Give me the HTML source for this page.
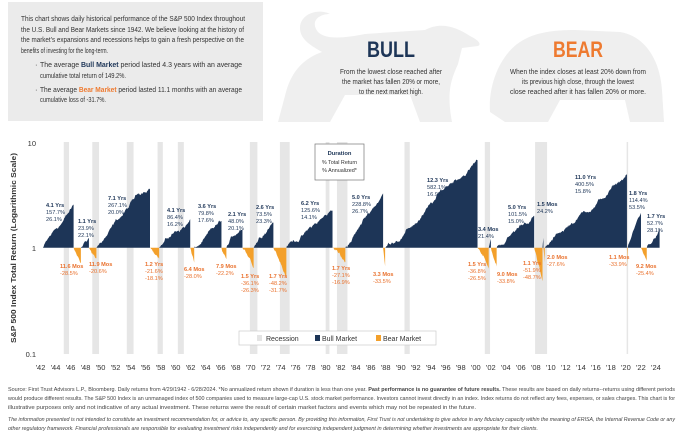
<!DOCTYPE html>
<html><head><meta charset="utf-8">
<style>
html,body{margin:0;padding:0;background:#fff;}
svg{display:block;font-family:"Liberation Sans Narrow","Liberation Sans",sans-serif;}
.bl{fill:#1d3557;font-size:5.6px;}
.bb{font-weight:bold;}
.br{fill:#e9712d;font-size:5.6px;}
.hd{fill:#333;font-size:7.6px;}
.ft{fill:#444;font-size:5.4px;}
.tk{fill:#333;font-size:7.5px;}
</style></head>
<body>
<svg id="s" width="680" height="432" viewBox="0 0 680 432" xmlns="http://www.w3.org/2000/svg">
<path d="M278,122 L286,92 C292,70 305,58 322,52 C312,46 300,40 300,28 C300,14 318,8 330,14 C318,14 310,22 318,32 C326,40 345,38 365,34 L425,30 C440,22 455,26 470,36 C478,40 482,44 478,46 L462,48 L458,64 C452,78 446,90 452,122 L420,122 L410,95 L345,95 L330,122 Z" fill="#efefef"/>
<path d="M490,112 C488,85 500,55 520,42 C535,32 555,30 575,30 L620,32 C645,36 660,60 662,90 L664,122 L630,122 L625,100 L560,100 L548,122 L505,122 Z" fill="#efefef"/>
<rect x="8" y="2" width="255" height="119" fill="#ebebeb"/>
<text class="hd" x="21" y="21" textLength="224" lengthAdjust="spacingAndGlyphs">This chart shows daily historical performance of the S&amp;P 500 Index throughout</text>
<text class="hd" x="21" y="32" textLength="223" lengthAdjust="spacingAndGlyphs">the U.S. Bull and Bear Markets since 1942. We believe looking at the history of</text>
<text class="hd" x="21" y="42" textLength="223" lengthAdjust="spacingAndGlyphs">the market’s expansions and recessions helps to gain a fresh perspective on the</text>
<text class="hd" x="21" y="53" textLength="87" lengthAdjust="spacingAndGlyphs">benefits of investing for the long-term.</text>
<text class="hd" x="35" y="67">·</text>
<text class="hd" x="40" y="67" textLength="202" lengthAdjust="spacingAndGlyphs">The average <tspan font-weight="bold" fill="#1d3557">Bull Market</tspan> period lasted 4.3 years with an average</text>
<text class="hd" x="40" y="78" textLength="86" lengthAdjust="spacingAndGlyphs">cumulative total return of 149.2%.</text>
<text class="hd" x="35" y="92">·</text>
<text class="hd" x="40" y="92" textLength="202" lengthAdjust="spacingAndGlyphs">The average <tspan font-weight="bold" fill="#ee7a30">Bear Market</tspan> period lasted 11.1 months with an average</text>
<text class="hd" x="40" y="102" textLength="66" lengthAdjust="spacingAndGlyphs">cumulative loss of -31.7%.</text>
<text x="391" y="57" text-anchor="middle" fill="#1d3557" font-weight="bold" font-size="22" textLength="48" lengthAdjust="spacingAndGlyphs">BULL</text>
<text class="hd" x="391" y="74" text-anchor="middle" textLength="102" lengthAdjust="spacingAndGlyphs">From the lowest close reached after</text>
<text class="hd" x="391" y="84" text-anchor="middle" textLength="98" lengthAdjust="spacingAndGlyphs">the market has fallen 20% or more,</text>
<text class="hd" x="391" y="94" text-anchor="middle" textLength="64" lengthAdjust="spacingAndGlyphs">to the next market high.</text>
<text x="578" y="57" text-anchor="middle" fill="#ee7a30" font-weight="bold" font-size="22" textLength="50" lengthAdjust="spacingAndGlyphs">BEAR</text>
<text class="hd" x="578" y="74" text-anchor="middle" textLength="136" lengthAdjust="spacingAndGlyphs">When the index closes at least 20% down from</text>
<text class="hd" x="578" y="84" text-anchor="middle" textLength="112" lengthAdjust="spacingAndGlyphs">its previous high close, through the lowest</text>
<text class="hd" x="578" y="94" text-anchor="middle" textLength="136" lengthAdjust="spacingAndGlyphs">close reached after it has fallen 20% or more.</text>
<g id="rec"></g>
<g id="ser"></g>
<text class="tk" x="36" y="146" text-anchor="end">10</text>
<text class="tk" x="36" y="251" text-anchor="end">1</text>
<text class="tk" x="36" y="357" text-anchor="end">0.1</text>
<text transform="translate(16,248) rotate(-90)" text-anchor="middle" fill="#333" font-weight="bold" font-size="7" textLength="190" lengthAdjust="spacingAndGlyphs">S&amp;P 500 Index Total Return (Logarithmic Scale)</text>
<g id="ticks"></g>
<rect x="315" y="144" width="49" height="36" fill="#fff" stroke="#777" stroke-width="0.7"/>
<text x="339.5" y="155" text-anchor="middle" fill="#1d3557" font-weight="bold" font-size="5.8">Duration</text>
<text x="339.5" y="164" text-anchor="middle" fill="#333" font-size="5.4">% Total Return</text>
<text x="339.5" y="172" text-anchor="middle" fill="#333" font-size="5.4">% Annualized*</text>
<g class="bl">
<text x="46" y="207"><tspan class="bb">4.1 Yrs</tspan><tspan x="46" dy="7">157.7%</tspan><tspan x="46" dy="7">26.1%</tspan></text>
<text x="78" y="223"><tspan class="bb">1.1 Yrs</tspan><tspan x="78" dy="7">23.9%</tspan><tspan x="78" dy="7">22.1%</tspan></text>
<text x="108" y="200"><tspan class="bb">7.1 Yrs</tspan><tspan x="108" dy="7">267.1%</tspan><tspan x="108" dy="7">20.0%</tspan></text>
<text x="167" y="212"><tspan class="bb">4.1 Yrs</tspan><tspan x="167" dy="7">86.4%</tspan><tspan x="167" dy="7">16.2%</tspan></text>
<text x="198" y="208"><tspan class="bb">3.6 Yrs</tspan><tspan x="198" dy="7">79.8%</tspan><tspan x="198" dy="7">17.6%</tspan></text>
<text x="228" y="216"><tspan class="bb">2.1 Yrs</tspan><tspan x="228" dy="7">48.0%</tspan><tspan x="228" dy="7">20.1%</tspan></text>
<text x="256" y="209"><tspan class="bb">2.6 Yrs</tspan><tspan x="256" dy="7">73.5%</tspan><tspan x="256" dy="7">23.3%</tspan></text>
<text x="301" y="205"><tspan class="bb">6.2 Yrs</tspan><tspan x="301" dy="7">125.6%</tspan><tspan x="301" dy="7">14.1%</tspan></text>
<text x="352" y="199"><tspan class="bb">5.0 Yrs</tspan><tspan x="352" dy="7">228.8%</tspan><tspan x="352" dy="7">26.7%</tspan></text>
<text x="427" y="182"><tspan class="bb">12.3 Yrs</tspan><tspan x="427" dy="7">582.1%</tspan><tspan x="427" dy="7">16.9%</tspan></text>
<text x="478" y="231"><tspan class="bb">3.4 Mos</tspan><tspan x="478" dy="7">21.4%</tspan></text>
<text x="508" y="209"><tspan class="bb">5.0 Yrs</tspan><tspan x="508" dy="7">101.5%</tspan><tspan x="508" dy="7">15.0%</tspan></text>
<text x="537" y="206"><tspan class="bb">1.5 Mos</tspan><tspan x="537" dy="7">24.2%</tspan></text>
<text x="575" y="179"><tspan class="bb">11.0 Yrs</tspan><tspan x="575" dy="7">400.5%</tspan><tspan x="575" dy="7">15.8%</tspan></text>
<text x="629" y="195"><tspan class="bb">1.8 Yrs</tspan><tspan x="629" dy="7">114.4%</tspan><tspan x="629" dy="7">53.5%</tspan></text>
<text x="647" y="218"><tspan class="bb">1.7 Yrs</tspan><tspan x="647" dy="7">52.7%</tspan><tspan x="647" dy="7">28.1%</tspan></text>
</g>
<g class="br">
<text x="60" y="268"><tspan class="bb">11.6 Mos</tspan><tspan x="60" dy="7">-28.5%</tspan></text>
<text x="89" y="266"><tspan class="bb">11.9 Mos</tspan><tspan x="89" dy="7">-20.6%</tspan></text>
<text x="145" y="266"><tspan class="bb">1.2 Yrs</tspan><tspan x="145" dy="7">-21.6%</tspan><tspan x="145" dy="7">-18.1%</tspan></text>
<text x="184" y="271"><tspan class="bb">6.4 Mos</tspan><tspan x="184" dy="7">-28.0%</tspan></text>
<text x="216" y="268"><tspan class="bb">7.9 Mos</tspan><tspan x="216" dy="7">-22.2%</tspan></text>
<text x="241" y="278"><tspan class="bb">1.5 Yrs</tspan><tspan x="241" dy="7">-36.1%</tspan><tspan x="241" dy="7">-26.3%</tspan></text>
<text x="269" y="278"><tspan class="bb">1.7 Yrs</tspan><tspan x="269" dy="7">-48.2%</tspan><tspan x="269" dy="7">-31.7%</tspan></text>
<text x="332" y="270"><tspan class="bb">1.7 Yrs</tspan><tspan x="332" dy="7">-27.1%</tspan><tspan x="332" dy="7">-16.9%</tspan></text>
<text x="373" y="276"><tspan class="bb">3.3 Mos</tspan><tspan x="373" dy="7">-33.5%</tspan></text>
<text x="468" y="266"><tspan class="bb">1.5 Yrs</tspan><tspan x="468" dy="7">-36.8%</tspan><tspan x="468" dy="7">-26.5%</tspan></text>
<text x="497" y="276"><tspan class="bb">9.0 Mos</tspan><tspan x="497" dy="7">-33.8%</tspan></text>
<text x="523" y="265"><tspan class="bb">1.1 Yrs</tspan><tspan x="523" dy="7">-51.9%</tspan><tspan x="523" dy="7">-48.7%</tspan></text>
<text x="547" y="259"><tspan class="bb">2.0 Mos</tspan><tspan x="547" dy="7">-27.6%</tspan></text>
<text x="609" y="259"><tspan class="bb">1.1 Mos</tspan><tspan x="609" dy="7">-33.9%</tspan></text>
<text x="636" y="268"><tspan class="bb">9.2 Mos</tspan><tspan x="636" dy="7">-25.4%</tspan></text>
</g>
<rect x="239" y="331" width="197" height="14" fill="#fff" stroke="#ccc" stroke-width="0.7"/>
<rect x="257" y="335" width="5" height="6" fill="#e4e4e4"/>
<text x="266" y="341" fill="#333" font-size="7">Recession</text>
<rect x="315" y="335" width="5" height="6" fill="#1d3557"/>
<text x="322" y="341" fill="#333" font-size="7">Bull Market</text>
<rect x="376" y="335" width="5" height="6" fill="#f3a02b"/>
<text x="383" y="341" fill="#333" font-size="7">Bear Market</text>
<text class="ft" x="8" y="391" textLength="667" lengthAdjust="spacingAndGlyphs">Source: First Trust Advisors L.P., Bloomberg. Daily returns from 4/29/1942 - 6/28/2024. *No annualized return shown if duration is less than one year. <tspan font-weight="bold">Past performance is no guarantee of future results.</tspan> These results are based on daily returns--returns using different periods</text>
<text class="ft" x="8" y="400" textLength="667" lengthAdjust="spacingAndGlyphs">would produce different results. The S&amp;P 500 Index is an unmanaged index of 500 companies used to measure large-cap U.S. stock market performance. Investors cannot invest directly in an index. Index returns do not reflect any fees, expenses, or sales charges. This chart is for</text>
<text class="ft" x="8" y="409" textLength="468" lengthAdjust="spacingAndGlyphs">illustrative purposes only and not indicative of any actual investment. These returns were the result of certain market factors and events which may not be repeated in the future.</text>
<text class="ft" x="8" y="421" font-style="italic" textLength="667" lengthAdjust="spacingAndGlyphs">The information presented is not intended to constitute an investment recommendation for, or advice to, any specific person. By providing this information, First Trust is not undertaking to give advice in any fiduciary capacity within the meaning of ERISA, the Internal Revenue Code or any</text>
<text class="ft" x="8" y="430" font-style="italic" textLength="530" lengthAdjust="spacingAndGlyphs">other regulatory framework. Financial professionals are responsible for evaluating investment risks independently and for exercising independent judgment in determining whether investments are appropriate for their clients.</text>
</svg>
<script>
(function(){
var NS="http://www.w3.org/2000/svg";
function X(y){return 40.5+(y-1942)*7.505;}
function Y(l){return 247.7-105*l;}
function el(p,t,a){var e=document.createElementNS(NS,t);for(var k in a)e.setAttribute(k,a[k]);p.appendChild(e);return e;}
var rec=document.getElementById('rec'),ser=document.getElementById('ser'),tk=document.getElementById('ticks');
var R=[[1945.1,1945.8],[1948.9,1949.8],[1953.5,1954.4],[1957.6,1958.3],[1960.3,1961.1],[1969.9,1970.9],[1973.9,1975.2],[1980.0,1980.5],[1981.5,1982.9],[1990.5,1991.2],[2001.2,2001.9],[2007.9,2009.5],[2020.1,2020.3]];
R.forEach(function(r){var a=X(r[0]),w=Math.max(1.2,X(r[1])-a);el(rec,'rect',{x:a,y:142,width:w,height:212,fill:'#e6e6e6'});});
for(var yr=1942;yr<=2024;yr+=2){var t=el(tk,'text',{x:X(yr),y:370,'text-anchor':'middle','class':'tk'});t.textContent="'"+String(yr%100).padStart(2,'0');}
var s=12345;function rnd(){s=(s*1103515245+12345)%2147483648;return s/2147483648;}
function gauss(){return (rnd()+rnd()+rnd()-1.5)*1.4;}
function series(a,b,L,bull){
 var x0=X(a),x1=X(b),n=Math.max(3,Math.round((x1-x0)*1.5));
 var w=[0],sig=0.011;
 for(var i=1;i<=n;i++)w.push(w[i-1]+gauss()*sig);
 var d="M"+x0.toFixed(2)+","+Y(0).toFixed(2);
 for(var i=0;i<=n;i++){var f=i/n,v=w[i]-f*w[n]+L*f;
  if(bull){v=Math.max(0,v);}else{v=Math.min(0,v);}
  if(i==n)v=L;
  d+=" L"+(x0+(x1-x0)*f).toFixed(2)+","+Y(v).toFixed(2);}
 d+=" L"+x1.toFixed(2)+","+Y(0).toFixed(2)+"Z";
 el(ser,'path',{d:d,fill:bull?'#1d3557':'#f3a02b'});
}
var B=[[1942.32,1946.41,1.577],[1947.38,1948.45,0.239],[1949.45,1956.59,2.671],[1957.81,1961.95,0.864],[1962.48,1966.11,0.798],[1966.77,1968.91,0.48],[1970.40,1973.03,0.735],[1974.76,1980.91,1.256],[1982.62,1987.65,2.288],[1987.92,2000.23,5.821],[2001.72,2002.01,0.214],[2002.78,2007.78,1.015],[2008.89,2009.01,0.242],[2009.19,2020.14,4.005],[2020.23,2022.01,1.144],[2022.78,2024.49,0.527]];
var D=[[1946.41,1947.38,0.285],[1948.45,1949.45,0.206],[1956.59,1957.81,0.216],[1961.95,1962.48,0.28],[1966.11,1966.77,0.222],[1968.91,1970.40,0.361],[1973.03,1974.76,0.482],[1980.91,1982.62,0.271],[1987.65,1987.92,0.335],[2000.23,2001.72,0.368],[2002.01,2002.78,0.338],[2007.78,2008.89,0.519],[2009.01,2009.19,0.276],[2020.14,2020.23,0.339],[2022.01,2022.78,0.254]];
B.forEach(function(b){series(b[0],b[1],Math.log10(1+b[2]),true);});
D.forEach(function(b){series(b[0],b[1],Math.log10(1-b[2]),false);});
})();
</script>
</body></html>
